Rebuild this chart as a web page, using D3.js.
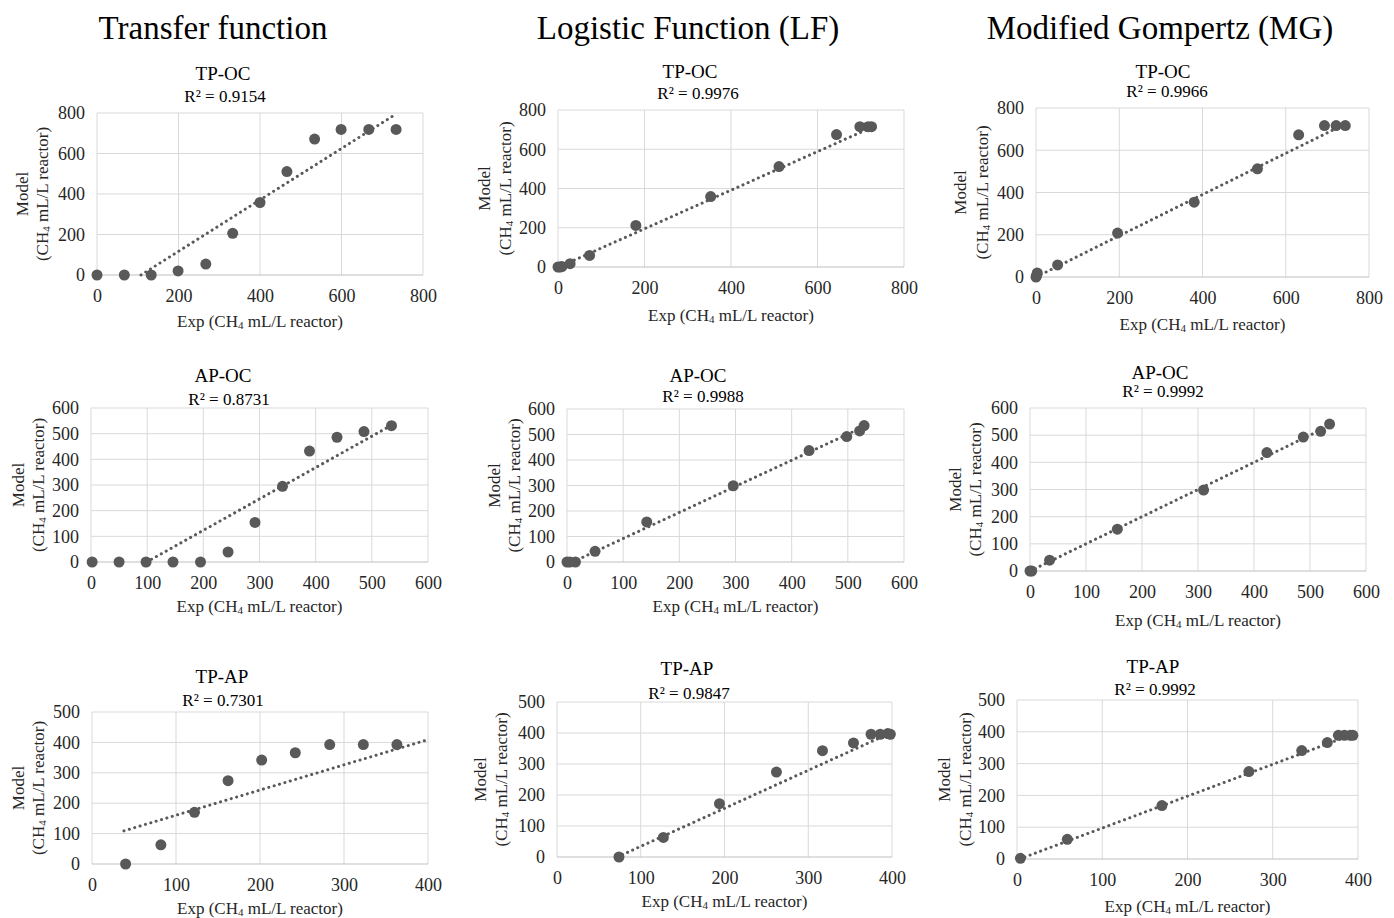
<!DOCTYPE html>
<html lang="en">
<head>
  <meta charset="UTF-8">
  <title>Model vs experimental methane, three kinetic models</title>
  <script src="https://cdn.jsdelivr.net/npm/d3@7/dist/d3.min.js"></script>
  <style>
    body { margin: 0; background: #fff; }
    text { font-family: "Liberation Serif", "Times New Roman", serif; fill: #262626; }
  </style>
</head>
<body>
<svg id="chart" width="1394" height="918"></svg>
<script>
// column headers and panel names
var columnTitles = ["Transfer function", "Logistic Function (LF)", "Modified Gompertz (MG)"];
var panelNames = ["TP-OC", "AP-OC", "TP-AP"];
var r2Values = [
  ["0.9154", "0.9976", "0.9966"],
  ["0.8731", "0.9988", "0.9992"],
  ["0.7301", "0.9847", "0.9992"]
];

// tick labels per row
var xTicksRow = [[0, 200, 400, 600, 800], [0, 100, 200, 300, 400, 500, 600], [0, 100, 200, 300, 400]];
var yTicksRow = [[0, 200, 400, 600, 800], [0, 100, 200, 300, 400, 500, 600], [0, 100, 200, 300, 400, 500]];

// points [exp, model]
var tfTPOC = [[0,0],[67,0],[133,0],[199,20],[267,54],[333,206],[400,358],[466,511],[534,671],[599,719],[667,719],[734,719]];
var lfTPOC = [[0,0],[5,0],[9,2],[28,17],[73,59],[180,212],[353,359],[511,512],[644,675],[698,715],[717,715],[725,715]];
var mgTPOC = [[0,0],[1,5],[3,19],[52,57],[196,208],[380,354],[532,512],[631,673],[693,717],[721,717],[743,717]];
var tfAPOC = [[2,0],[50,0],[98,0],[146,0],[195,0],[244,39],[292,154],[341,295],[389,432],[438,486],[486,508],[535,531]];
var lfAPOC = [[0,0],[5,0],[15,0],[50,42],[142,157],[296,299],[431,437],[498,492],[521,514],[529,535]];
var mgAPOC = [[0,0],[3,0],[35,40],[156,154],[310,298],[423,436],[488,493],[519,514],[535,541]];
var tfTPAP = [[40,0],[82,63],[122,170],[162,274],[202,342],[242,366],[283,393],[323,393],[363,393]];
var lfTPAP = [[74,0],[127,63],[194,172],[262,274],[317,343],[354,368],[375,396],[386,396],[395,398],[398,396]];
var mgTPAP = [[4,2],[59,62],[170,168],[272,275],[334,341],[364,366],[377,389],[384,389],[391,389],[394,389]];

// trendline end points [x1, y1, x2, y2]
var trends = [
  [[108,0,734,795], [2,0,730,716], [0,0,743,725]],
  [[99,0,535,533], [10,0,530,532], [0,0,537,537]],
  [[38,109,400,409], [72,0,398,400], [3,0,394,392]]
];

var points = [
  [tfTPOC, lfTPOC, mgTPOC],
  [tfAPOC, lfAPOC, mgAPOC],
  [tfTPAP, lfTPAP, mgTPAP]
];

// layout: plot box [left, right, top, bottom], title/r2 centres, y label x's, x label y
var layout = [
  [{box:[97,423,113,275], tx:223, ty:73, rx:225, ry:96, ly:[22,42], xl:321},
   {box:[558,904,110,267], tx:690, ty:71, rx:698, ry:93, ly:[484,505], xl:315},
   {box:[1036,1369,108,277], tx:1163, ty:71, rx:1167, ry:91, ly:[960,982], xl:324}],
  [{box:[91,428,408,562], tx:223, ty:375, rx:229, ry:399, ly:[18,38], xl:606},
   {box:[567,904,409,562], tx:698, ty:375, rx:703, ry:396, ly:[494,514], xl:606},
   {box:[1030,1366,408,571], tx:1160, ty:372, rx:1163, ry:391, ly:[955,975], xl:620}],
  [{box:[92,428,712,864], tx:222, ty:676, rx:223, ry:700, ly:[18,38], xl:908},
   {box:[557,892,702,857], tx:687, ty:668, rx:689, ry:693, ly:[480,501], xl:901},
   {box:[1017,1358,700,859], tx:1153, ty:666, rx:1155, ry:689, ly:[944,965], xl:906}]
];

var headerX = [213, 688, 1160];
var svg = d3.select("#chart");
var markColor = "#595959";

headerX.forEach(function(x, i) {
  svg.append("text").attr("x", x).attr("y", 28).attr("text-anchor", "middle")
    .attr("dominant-baseline", "central").style("font-size", "33px").style("fill", "#000")
    .text(columnTitles[i]);
});

function ch4Label(sel, prefix, suffix) {
  sel.append("tspan").text(prefix + "(CH");
  sel.append("tspan").attr("dy", 4).style("font-size", "11px").text("4");
  sel.append("tspan").attr("dy", -4).text(suffix);
}

for (var r = 0; r < 3; r++) {
  for (var c = 0; c < 3; c++) {
    var L = layout[r][c], b = L.box;
    var xT = xTicksRow[r], yT = yTicksRow[r];
    var x = d3.scaleLinear().domain([0, xT[xT.length - 1]]).range([b[0], b[1]]);
    var y = d3.scaleLinear().domain([0, yT[yT.length - 1]]).range([b[3], b[2]]);
    var g = svg.append("g");

    // grid
    g.selectAll("line.gx").data(xT).enter().append("line")
      .attr("x1", x).attr("x2", x).attr("y1", b[2]).attr("y2", b[3])
      .attr("stroke", "#d9d9d9").attr("stroke-width", 1);
    g.selectAll("line.gy").data(yT).enter().append("line")
      .attr("x1", b[0]).attr("x2", b[1]).attr("y1", y).attr("y2", y)
      .attr("stroke", function(d) { return d === 0 ? "#bfbfbf" : "#d9d9d9"; }).attr("stroke-width", 1);

    // axes via d3 axis, tick lines hidden
    var xa = g.append("g").attr("transform", "translate(0," + b[3] + ")")
      .call(d3.axisBottom(x).tickValues(xT).tickSize(0).tickPadding(14));
    var ya = g.append("g").attr("transform", "translate(" + b[0] + ",0)")
      .call(d3.axisLeft(y).tickValues(yT).tickSize(0).tickPadding(12));
    [xa, ya].forEach(function(a) {
      a.select(".domain").remove();
      a.selectAll("text").style("font-size", "18px").style("font-family", "Liberation Serif, serif").attr("fill", "#262626");
    });

    // trendline
    var t = trends[r][c];
    g.append("line")
      .attr("x1", x(t[0])).attr("y1", y(t[1])).attr("x2", x(t[2])).attr("y2", y(t[3]))
      .attr("stroke", markColor).attr("stroke-width", 3)
      .attr("stroke-linecap", "round").attr("stroke-dasharray", "0.1,5.5");

    // points
    g.selectAll("circle").data(points[r][c]).enter().append("circle")
      .attr("cx", function(d) { return x(d[0]); })
      .attr("cy", function(d) { return y(d[1]); })
      .attr("r", 5.5).attr("fill", markColor);

    // titles
    g.append("text").attr("x", L.tx).attr("y", L.ty).attr("text-anchor", "middle")
      .attr("dominant-baseline", "central").style("font-size", "19px").style("fill", "#000")
      .text(panelNames[r]);
    g.append("text").attr("x", L.rx).attr("y", L.ry).attr("text-anchor", "middle")
      .attr("dominant-baseline", "central").style("font-size", "17px").style("fill", "#000")
      .text("R\u00B2 = " + r2Values[r][c]);

    // x label
    var xl = g.append("text").attr("x", (b[0] + b[1]) / 2).attr("y", L.xl)
      .attr("text-anchor", "middle").attr("dominant-baseline", "central").style("font-size", "17px");
    ch4Label(xl, "Exp ", " mL/L reactor)");

    // y label
    var cy = (b[2] + b[3]) / 2;
    g.append("text").attr("transform", "translate(" + L.ly[0] + "," + cy + ") rotate(-90)")
      .attr("text-anchor", "middle").attr("dominant-baseline", "central").style("font-size", "17px")
      .text("Model");
    var yl = g.append("text").attr("transform", "translate(" + L.ly[1] + "," + cy + ") rotate(-90)")
      .attr("text-anchor", "middle").attr("dominant-baseline", "central").style("font-size", "17px");
    ch4Label(yl, "", " mL/L reactor)");
  }
}
</script>
</body>
</html>
